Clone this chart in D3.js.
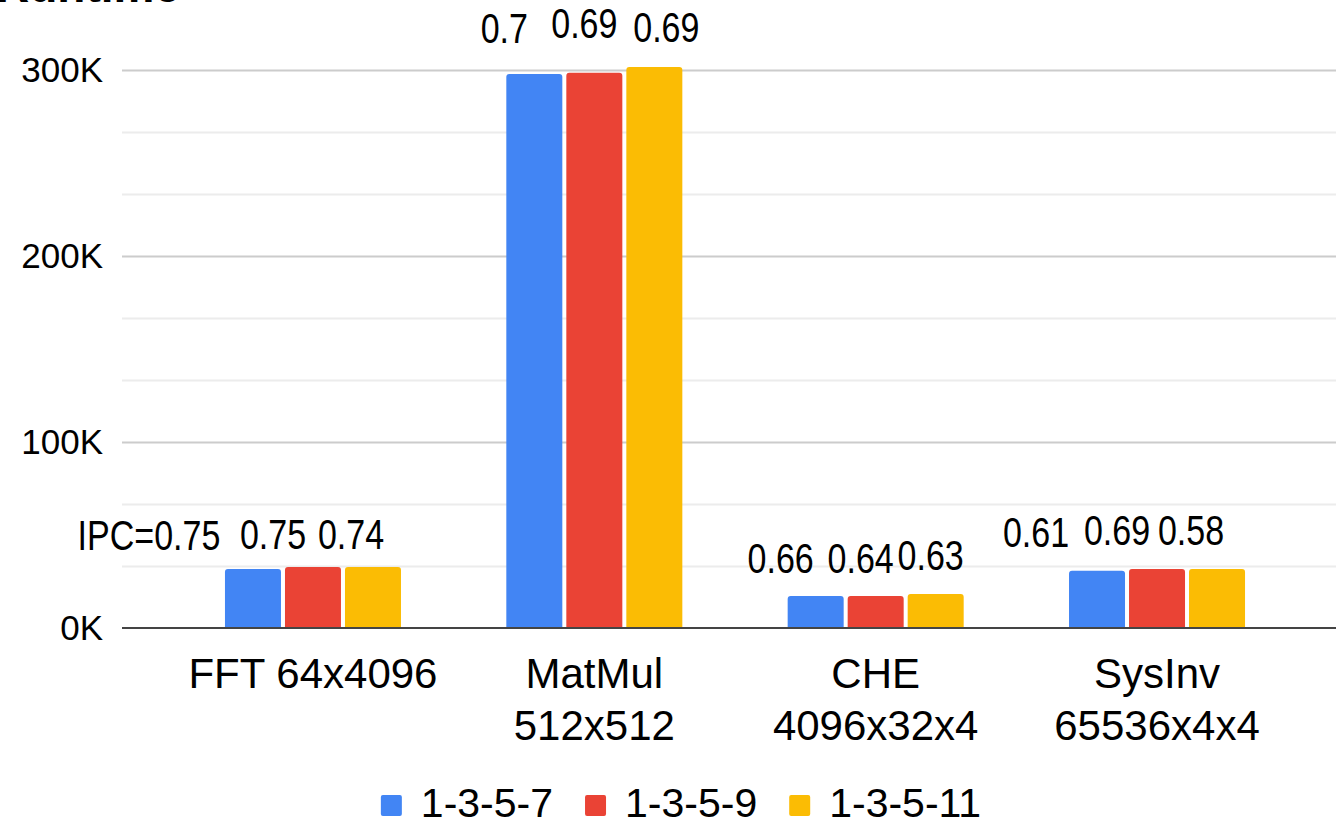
<!DOCTYPE html>
<html>
<head>
<meta charset="utf-8">
<script src="https://cdn.jsdelivr.net/npm/d3@7"></script>
<style>
  html, body { margin: 0; padding: 0; background: #fff; overflow: hidden; }
  svg { display: block; font-family: "Liberation Sans", Arial, sans-serif; }
</style>
</head>
<body>
<svg id="chart" width="1336" height="824"></svg>
<script>
// Benchmarks (two-line labels where the name wraps)
const categories = ["FFT 64x4096", "MatMul 512x512", "CHE 4096x32x4", "SysInv 65536x4x4"];
const categoryLines = [["FFT 64x4096"], ["MatMul", "512x512"], ["CHE", "4096x32x4"], ["SysInv", "65536x4x4"]];
const seriesNames = ["1-3-5-7", "1-3-5-9", "1-3-5-11"];
const seriesColors = ["#4285F4", "#EA4335", "#FBBC04"];

// Runtime per configuration
const runtime1357 = [31700, 297800, 17200, 30800];
const runtime1359 = [32800, 298500, 17200, 31700];
const runtime13511 = [32800, 301600, 18300, 31700];

// IPC per configuration
const ipc1357 = [0.75, 0.70, 0.66, 0.61];
const ipc1359 = [0.75, 0.69, 0.64, 0.69];
const ipc13511 = [0.74, 0.69, 0.63, 0.58];

const yTickValues = [0, 100000, 200000, 300000];
const yTickLabels = ["0K", "100K", "200K", "300K"];

// Label placement relative to each bar: [dx from bar centre, gap above bar top]
const ipcLabelOffsets = [
  [[-104, 19], [-40, 18], [-22, 18]],
  [[-30, 31], [-10, 35], [12, 25]],
  [[-35, 23], [-15, 23], [-5, 24]],
  [[-61, 24], [-40, 24], [-26, 24]]
];

const runtimes = [runtime1357, runtime1359, runtime13511];
const ipcs = [ipc1357, ipc1359, ipc13511];

const svg = d3.select("#chart");

const plot = { left: 122, right: 1336, top: 70, bottom: 628 };

const y = d3.scaleLinear().domain([0, 300000]).range([628, 70]);

const x0 = d3.scaleBand()
  .domain(categories)
  .range([172.3, 1297.7])
  .paddingInner(0.3744)
  .paddingOuter(0.1872);

const x1 = d3.scaleBand()
  .domain(seriesNames)
  .range([0, x0.bandwidth()])
  .paddingInner(0.0667);

// Minor gridlines every third of a major step
const minorTicks = d3.range(0, 300000, 100000 / 3).filter((v, i) => i % 3 !== 0);
svg.append("g")
  .selectAll("line")
  .data(minorTicks)
  .join("line")
  .attr("x1", plot.left).attr("x2", plot.right)
  .attr("y1", d => Math.round(y(d)) + 0.5).attr("y2", d => Math.round(y(d)) + 0.5)
  .attr("stroke", "#ececec").attr("stroke-width", 2);

// Major gridlines and tick labels via the axis
const yAxis = d3.axisLeft(y)
  .tickValues(yTickValues)
  .tickFormat((d, i) => yTickLabels[i])
  .tickSize(-(plot.right - plot.left))
  .tickPadding(19);

const gy = svg.append("g")
  .attr("transform", `translate(${plot.left},0)`)
  .call(yAxis);
gy.select(".domain").remove();
gy.selectAll(".tick line")
  .attr("stroke", d => d === 0 ? "none" : "#cccccc")
  .attr("stroke-width", 2);
gy.selectAll(".tick text")
  .attr("fill", "#000")
  .attr("font-size", 35)
  .attr("font-family", "'Liberation Sans', Arial, sans-serif");

// Bars with rounded top corners
function barPath(xp, yTop, w, yBase, r) {
  r = Math.min(r, w / 2, (yBase - yTop));
  return `M${xp},${yBase}V${yTop + r}Q${xp},${yTop} ${xp + r},${yTop}` +
    `H${xp + w - r}Q${xp + w},${yTop} ${xp + w},${yTop + r}V${yBase}Z`;
}

const barData = [];
categories.forEach((c, ci) => {
  seriesNames.forEach((s, si) => {
    barData.push({ cat: c, ci, series: s, si, value: runtimes[si][ci], ipc: ipcs[si][ci] });
  });
});

svg.append("g")
  .selectAll("path")
  .data(barData)
  .join("path")
  .attr("d", d => barPath(x0(d.cat) + x1(d.series), y(d.value), x1.bandwidth(), y(0), 3))
  .attr("fill", d => seriesColors[d.si]);

// Baseline
svg.append("line")
  .attr("x1", plot.left).attr("x2", plot.right)
  .attr("y1", y(0)).attr("y2", y(0))
  .attr("stroke", "#444").attr("stroke-width", 2);

// IPC annotations
svg.append("g")
  .selectAll("text")
  .data(barData)
  .join("text")
  .attr("transform", d => {
    const off = ipcLabelOffsets[d.ci][d.si];
    const cx = x0(d.cat) + x1(d.series) + x1.bandwidth() / 2 + off[0];
    const cy = y(d.value) - off[1];
    return `translate(${cx},${cy}) scale(0.81,1)`;
  })
  .attr("text-anchor", "middle")
  .attr("font-size", 42)
  .attr("fill", "#000")
  .text(d => (d.ci === 0 && d.si === 0 ? "IPC=" : "") + d3.format("")(d.ipc));

// Category labels
const catG = svg.append("g")
  .selectAll("text")
  .data(categories)
  .join("text")
  .attr("text-anchor", "middle")
  .attr("font-size", 42)
  .attr("fill", "#000")
  .attr("x", d => x0(d) + x0.bandwidth() / 2)
  .attr("y", 688);
catG.selectAll("tspan")
  .data((d, i) => categoryLines[i])
  .join("tspan")
  .attr("x", function () { return d3.select(this.parentNode).attr("x"); })
  .attr("dy", (d, i) => i === 0 ? 0 : 52)
  .text(d => d);

// Title (partly above the frame)
svg.append("text")
  .attr("x", -4).attr("y", 2)
  .attr("font-size", 46)
  .attr("font-weight", "bold")
  .attr("fill", "#000")
  .text("Runtime");

// Legend
const legend = svg.append("g");
const items = legend.selectAll("g")
  .data(seriesNames)
  .join("g");
items.append("rect")
  .attr("width", 21).attr("height", 21)
  .attr("rx", 2)
  .attr("y", 795)
  .attr("fill", (d, i) => seriesColors[i]);
items.append("text")
  .attr("x", 40).attr("y", 817)
  .attr("font-size", 41)
  .attr("fill", "#000")
  .text(d => d);
let cursor = 0;
const positions = [];
items.each(function () {
  const tw = d3.select(this).select("text").node().getComputedTextLength();
  positions.push(cursor);
  cursor += 40 + tw + 32;
});
const totalW = cursor - 32;
const startX = 681 - totalW / 2;
items.attr("transform", (d, i) => `translate(${startX + positions[i]},0)`);
</script>
</body>
</html>
